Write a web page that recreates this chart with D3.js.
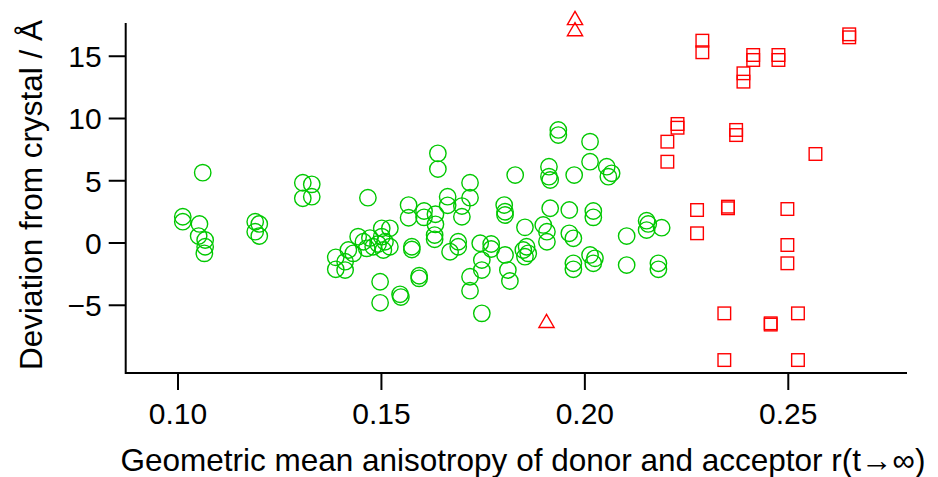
<!DOCTYPE html>
<html>
<head>
<meta charset="utf-8">
<script src="https://cdn.jsdelivr.net/npm/d3@7"></script>
<style>
  html, body { margin: 0; padding: 0; background: #fff; }
  svg { display: block; }
  text { font-family: "Liberation Sans", Arial, sans-serif; }
</style>
</head>
<body>
<svg id="chart" width="938" height="477"></svg>
<script>
// ---- Data ----
const greenX = [0.1062,0.1013,0.1013,0.1054,0.1052,0.1068,0.1068,0.1066,0.1191,0.1201,0.1191,0.1201,
  0.1308,0.1330,0.1308,0.1330,0.1389,0.1389,0.1412,0.1412,0.1432,0.1444,0.1457,0.1465,0.1481,0.1468,
  0.1502,0.1522,0.1502,0.1510,0.1522,0.1506,0.1493,0.1473,0.1420,0.1498,0.1498,0.1547,0.1549,0.1576,
  0.1576,0.1568,0.1568,0.1606,0.1606,0.1634,0.1634,0.1632,0.1632,0.1594,0.1594,0.1640,0.1640,0.1664,
  0.1664,0.1699,0.1699,0.1719,0.1719,0.1670,0.1690,0.1690,0.1719,0.1719,0.1744,0.1771,0.1771,0.1748,
  0.1748,0.1748,0.1803,0.1805,0.1830,0.1805,0.1812,0.1817,0.1850,0.1858,0.1862,0.1854,0.1854,0.1805,
  0.1913,0.1913,0.1916,0.1936,0.1936,0.1916,0.1899,0.1908,0.1908,0.1975,0.1963,0.1963,0.1973,0.1973,
  0.1973,0.2014,0.2014,0.2022,0.2022,0.2014,0.2026,0.2022,0.2055,0.2067,0.2059,0.2104,0.2104,0.2153,
  0.2157,0.2153,0.2190,0.2182,0.2182];
const greenY = [5.61,2.07,1.67,1.49,0.52,0.20,-0.34,-0.87,1.67,1.49,0.87,0.52,
  4.80,4.67,3.55,3.68,-1.19,-2.15,-1.54,-2.21,-0.87,0.47,0.06,-0.47,-0.34,3.60,
  1.14,1.14,0.47,0.06,-0.34,-0.60,-0.12,0.36,-0.60,-3.15,-4.84,-4.16,-4.38,-0.34,
  -0.56,3.01,1.99,2.53,2.02,2.27,1.46,0.60,0.26,-2.67,-2.88,7.16,5.90,3.68,
  2.99,2.93,2.07,4.80,3.60,-0.74,0.06,-0.34,-2.75,-3.87,-0.06,-0.12,-0.52,-1.41,
  -2.21,-5.69,3.01,2.47,5.42,-1.00,-2.21,-3.09,-0.60,-0.34,-0.87,-1.14,1.22,2.21,
  6.09,5.29,5.02,9.04,8.63,2.75,1.41,0.87,0.06,5.42,2.61,0.74,0.34,-1.67,
  -2.15,8.10,6.49,2.53,2.02,-1.00,-1.27,-1.67,6.09,5.56,5.29,0.52,-1.81,1.75,
  1.49,1.00,1.19,-1.67,-2.15];

const squareX = [0.2290,0.2290,0.2415,0.2415,0.2477,0.2477,0.2391,0.2391,0.2651,0.2651,
  0.2229,0.2229,0.2204,0.2204,0.2373,0.2373,0.2568,0.2277,0.2277,0.2353,0.2353,
  0.2499,0.2499,0.2499,0.2344,0.2525,0.2458,0.2458,0.2344,0.2525];
const squareY = [16.21,15.28,15.06,14.66,15.06,14.66,13.59,12.92,16.72,16.48,
  9.52,9.22,8.10,6.49,9.04,8.63,7.11,2.61,0.74,2.88,2.75,
  2.69,-0.20,-1.67,-5.69,-5.69,-6.49,-6.59,-9.44,-9.44];

const triX = [0.1977,0.1977,0.1907];
const triY = [18.01,17.12,-6.31];

const xTicks = [0.10, 0.15, 0.20, 0.25];
const yTicks = [-5, 0, 5, 10, 15];
const xTitle = "Geometric mean anisotropy of donor and acceptor r(t\u2192\u221E)";
const yTitle = "Deviation from crystal / \u00C5";

// ---- Layout ----
const padL = 125.7, padR = 907, padT = 23, padB = 373;
const svg = d3.select("#chart");

const x = d3.scaleLinear().domain([0.08727, 0.2793]).range([padL, padR]);
const y = d3.scaleLinear().domain([-10.48, 17.63]).range([padB, padT]);

// markers
const gMarks = svg.append("g");
gMarks.selectAll("circle.g").data(greenX.map((v,i)=>[v, greenY[i]])).join("circle")
  .attr("class","g")
  .attr("cx", d => x(d[0])).attr("cy", d => y(d[1])).attr("r", 8.2)
  .attr("fill","none").attr("stroke","#00c800").attr("stroke-width",1.4);

const sq = 12.6;
gMarks.selectAll("rect.s").data(squareX.map((v,i)=>[v, squareY[i]])).join("rect")
  .attr("class","s")
  .attr("x", d => x(d[0]) - sq/2).attr("y", d => y(d[1]) - sq/2)
  .attr("width", sq).attr("height", sq)
  .attr("fill","none").attr("stroke","#ff0000").attr("stroke-width",1.4);

gMarks.selectAll("path.t").data(triX.map((v,i)=>[v, triY[i]])).join("path")
  .attr("class","t")
  .attr("d", d => {
    const cx = x(d[0]), cy = y(d[1]);
    return `M${cx},${cy-6.8}L${cx+7.6},${cy+6.4}L${cx-7.6},${cy+6.4}Z`;
  })
  .attr("fill","none").attr("stroke","#ff0000").attr("stroke-width",1.4);

// axes
const xAxis = d3.axisBottom(x).tickValues(xTicks).tickFormat(d3.format(".2f"))
  .tickSizeInner(17).tickSizeOuter(0).tickPadding(13);
const yAxis = d3.axisLeft(y).tickValues(yTicks).tickFormat(d3.format("d"))
  .tickSizeInner(17).tickSizeOuter(0).tickPadding(7);

const gx = svg.append("g").attr("transform", `translate(0,${padB})`).call(xAxis);
const gy = svg.append("g").attr("transform", `translate(${padL},0)`).call(yAxis);

[gx, gy].forEach(g => {
  g.select(".domain").attr("stroke","#000").attr("stroke-width",2);
  g.selectAll(".tick line").attr("stroke","#000").attr("stroke-width",2);
  g.selectAll(".tick text").attr("fill","#000").style("font-size","30px")
    .style("font-family","'Liberation Sans', Arial, sans-serif");
});
gx.select(".domain").attr("d", `M${padL},0H${padR}`);
gy.select(".domain").attr("d", `M0,${padT}V${padB+1}`);
gy.selectAll(".tick text").attr("dy","0.36em");

svg.append("text")
  .attr("x", 523).attr("y", 471)
  .attr("text-anchor","middle")
  .style("font-size","31.5px").attr("fill","#000")
  .text(xTitle);

svg.append("text")
  .attr("transform", "translate(42,195) rotate(-90)")
  .attr("text-anchor","middle")
  .style("font-size","31.5px").attr("fill","#000")
  .text(yTitle);
</script>
</body>
</html>
